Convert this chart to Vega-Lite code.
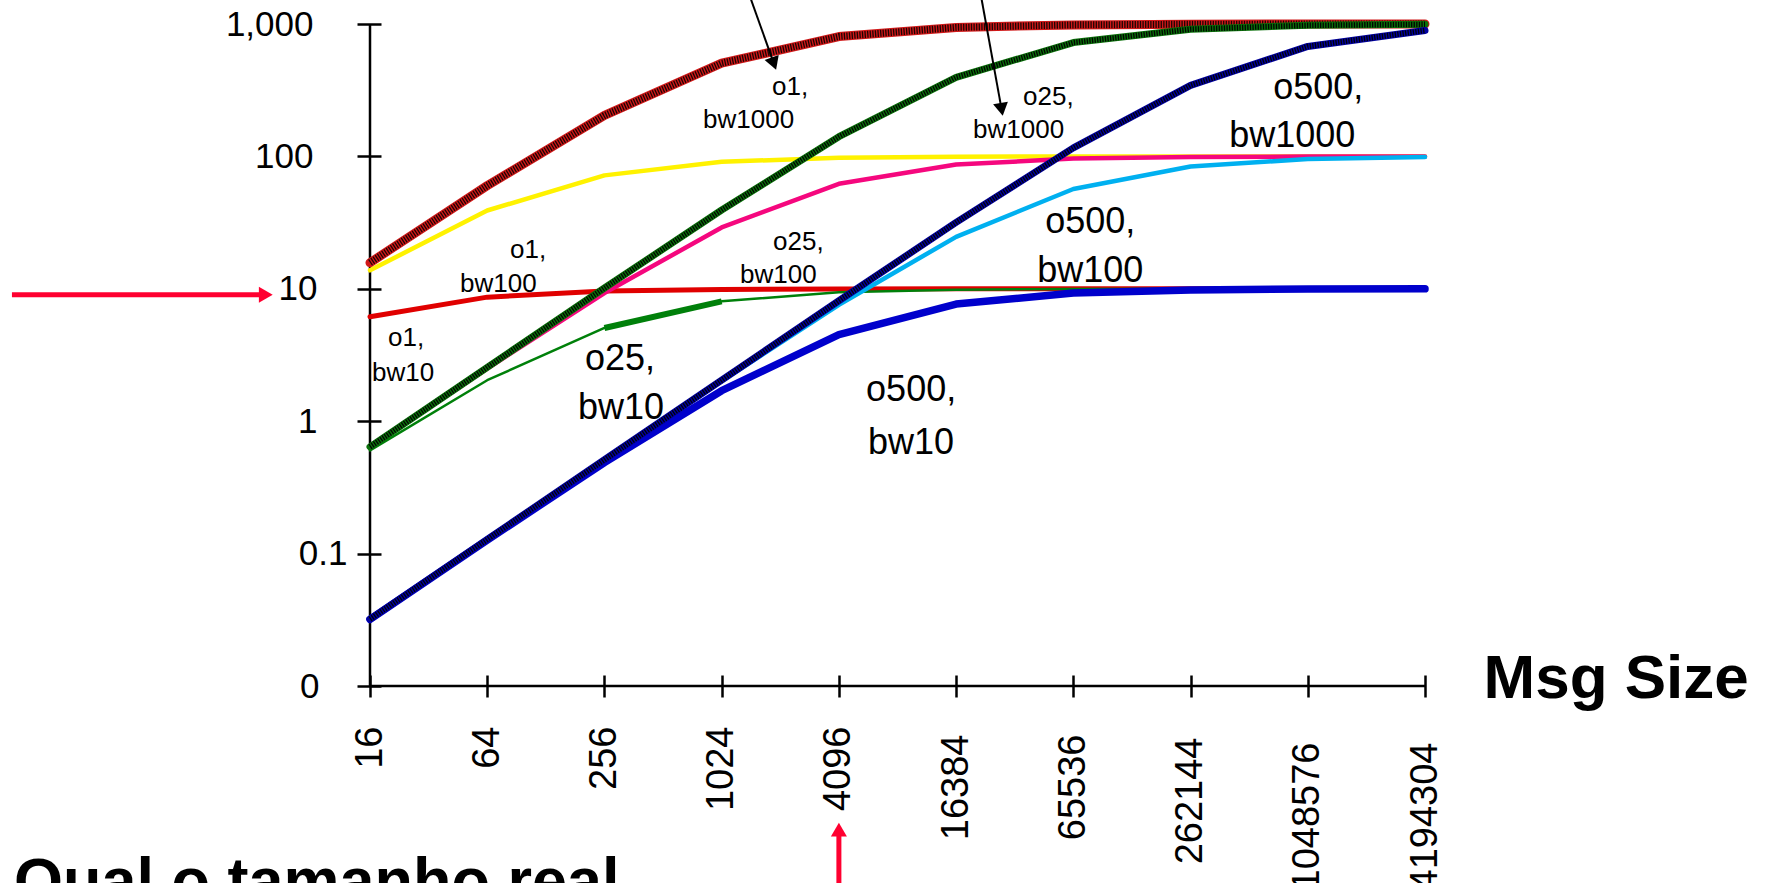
{
  "$schema": "https://vega.github.io/schema/vega-lite/v6.json",
  "width": 1055,
  "height": 662,
  "autosize": "none",
  "padding": {"left": 370, "top": 24, "right": 348, "bottom": 197},
  "background": "white",
  "config": {"view": {"stroke": null}, "font": "Liberation Sans"},
  "datasets": {
    "lines": [
      {"s": "o1,bw10", "x": 16, "y": 6.15}, {"s": "o1,bw10", "x": 64, "y": 8.65}, {"s": "o1,bw10", "x": 256, "y": 9.62}, {"s": "o1,bw10", "x": 1024, "y": 9.9}, {"s": "o1,bw10", "x": 4096, "y": 9.98}, {"s": "o1,bw10", "x": 16384, "y": 9.99}, {"s": "o1,bw10", "x": 65536, "y": 10.0}, {"s": "o1,bw10", "x": 262144, "y": 10.0}, {"s": "o1,bw10", "x": 1048576, "y": 10.0}, {"s": "o1,bw10", "x": 4194304, "y": 10.0},
      {"s": "o1,bw100", "x": 16, "y": 13.79}, {"s": "o1,bw100", "x": 64, "y": 39.02}, {"s": "o1,bw100", "x": 256, "y": 71.91}, {"s": "o1,bw100", "x": 1024, "y": 91.1}, {"s": "o1,bw100", "x": 4096, "y": 97.62}, {"s": "o1,bw100", "x": 16384, "y": 99.39}, {"s": "o1,bw100", "x": 65536, "y": 99.85}, {"s": "o1,bw100", "x": 262144, "y": 99.96}, {"s": "o1,bw100", "x": 1048576, "y": 99.99}, {"s": "o1,bw100", "x": 4194304, "y": 100.0},
      {"s": "o1,bw1000", "x": 16, "y": 15.75}, {"s": "o1,bw1000", "x": 64, "y": 60.15}, {"s": "o1,bw1000", "x": 256, "y": 203.8}, {"s": "o1,bw1000", "x": 1024, "y": 505.9}, {"s": "o1,bw1000", "x": 4096, "y": 803.8}, {"s": "o1,bw1000", "x": 16384, "y": 942.5}, {"s": "o1,bw1000", "x": 65536, "y": 984.7}, {"s": "o1,bw1000", "x": 262144, "y": 996.2}, {"s": "o1,bw1000", "x": 1048576, "y": 999.0}, {"s": "o1,bw1000", "x": 4194304, "y": 999.8},
      {"s": "o25,bw10", "x": 16, "y": 0.602}, {"s": "o25,bw10", "x": 64, "y": 2.04}, {"s": "o25,bw10", "x": 256, "y": 5.06}, {"s": "o25,bw10", "x": 1024, "y": 8.04}, {"s": "o25,bw10", "x": 4096, "y": 9.42}, {"s": "o25,bw10", "x": 16384, "y": 9.85}, {"s": "o25,bw10", "x": 65536, "y": 9.96}, {"s": "o25,bw10", "x": 262144, "y": 9.99}, {"s": "o25,bw10", "x": 1048576, "y": 10.0}, {"s": "o25,bw10", "x": 4194304, "y": 10.0},
      {"s": "o25,bw100", "x": 16, "y": 0.636}, {"s": "o25,bw100", "x": 64, "y": 2.5}, {"s": "o25,bw100", "x": 256, "y": 9.29}, {"s": "o25,bw100", "x": 1024, "y": 29.06}, {"s": "o25,bw100", "x": 4096, "y": 62.1}, {"s": "o25,bw100", "x": 16384, "y": 86.8}, {"s": "o25,bw100", "x": 65536, "y": 96.3}, {"s": "o25,bw100", "x": 262144, "y": 99.07}, {"s": "o25,bw100", "x": 1048576, "y": 99.77}, {"s": "o25,bw100", "x": 4194304, "y": 99.94},
      {"s": "o25,bw1000", "x": 16, "y": 0.64}, {"s": "o25,bw1000", "x": 64, "y": 2.553}, {"s": "o25,bw1000", "x": 256, "y": 10.14}, {"s": "o25,bw1000", "x": 1024, "y": 39.35}, {"s": "o25,bw1000", "x": 4096, "y": 140.8}, {"s": "o25,bw1000", "x": 16384, "y": 395.9}, {"s": "o25,bw1000", "x": 65536, "y": 723.9}, {"s": "o25,bw1000", "x": 262144, "y": 913.1}, {"s": "o25,bw1000", "x": 1048576, "y": 976.7}, {"s": "o25,bw1000", "x": 4194304, "y": 994.1},
      {"s": "o500,bw10", "x": 16, "y": 0.0319}, {"s": "o500,bw10", "x": 64, "y": 0.1264}, {"s": "o500,bw10", "x": 256, "y": 0.4871}, {"s": "o500,bw10", "x": 1024, "y": 1.7}, {"s": "o500,bw10", "x": 4096, "y": 4.503}, {"s": "o500,bw10", "x": 16384, "y": 7.663}, {"s": "o500,bw10", "x": 65536, "y": 9.291}, {"s": "o500,bw10", "x": 262144, "y": 9.813}, {"s": "o500,bw10", "x": 1048576, "y": 9.952}, {"s": "o500,bw10", "x": 4194304, "y": 9.988},
      {"s": "o500,bw100", "x": 16, "y": 0.03199}, {"s": "o500,bw100", "x": 64, "y": 0.1279}, {"s": "o500,bw100", "x": 256, "y": 0.5094}, {"s": "o500,bw100", "x": 1024, "y": 2.007}, {"s": "o500,bw100", "x": 4096, "y": 7.572}, {"s": "o500,bw100", "x": 16384, "y": 24.68}, {"s": "o500,bw100", "x": 65536, "y": 56.72}, {"s": "o500,bw100", "x": 262144, "y": 84.0}, {"s": "o500,bw100", "x": 1048576, "y": 95.45}, {"s": "o500,bw100", "x": 4194304, "y": 98.82},
      {"s": "o500,bw1000", "x": 16, "y": 0.032}, {"s": "o500,bw1000", "x": 64, "y": 0.128}, {"s": "o500,bw1000", "x": 256, "y": 0.5117}, {"s": "o500,bw1000", "x": 1024, "y": 2.044}, {"s": "o500,bw1000", "x": 4096, "y": 8.125}, {"s": "o500,bw1000", "x": 16384, "y": 31.73}, {"s": "o500,bw1000", "x": 65536, "y": 115.9}, {"s": "o500,bw1000", "x": 262144, "y": 344.0}, {"s": "o500,bw1000", "x": 1048576, "y": 677.1}, {"s": "o500,bw1000", "x": 4194304, "y": 893.5}
    ],
    "labelsSmall": [
      {"t": "o1,", "x": 1858.7, "y": 291.2},
      {"t": "bw1000", "x": 821.8, "y": 164.1},
      {"t": "o25,", "x": 36190, "y": 244.7},
      {"t": "bw1000", "x": 20034, "y": 137.9},
      {"t": "o1,", "x": 83.81, "y": 17.14},
      {"t": "bw100", "x": 46.39, "y": 9.493},
      {"t": "o1,", "x": 19.8, "y": 3.714},
      {"t": "bw10", "x": 16.38, "y": 2.021},
      {"t": "o25,", "x": 1880.9, "y": 19.7},
      {"t": "bw100", "x": 1273, "y": 11.1}
    ],
    "labelsLarge": [
      {"t": "o500,", "x": 696460, "y": 271.6},
      {"t": "bw1000", "x": 413850, "y": 117.9},
      {"t": "o500,", "x": 46950, "y": 26.47},
      {"t": "bw100", "x": 42709, "y": 11.29},
      {"t": "o500,", "x": 5651, "y": 1.428},
      {"t": "bw10", "x": 5785, "y": 0.5684},
      {"t": "o25,", "x": 203.5, "y": 2.447},
      {"t": "bw10", "x": 187.3, "y": 1.044}
    ]
  },
  "encoding": {
    "x": {
      "field": "x", "type": "quantitative",
      "scale": {"type": "log", "domain": [16, 4194304], "nice": false},
      "axis": {
        "values": [16, 64, 256, 1024, 4096, 16384, 65536, 262144, 1048576, 4194304],
        "format": "d", "labelAngle": -90, "labelFont": "Liberation Sans", "labelFontSize": 38, "labelColor": "black",
        "labelPadding": {"condition": [{"test": "datum.value >= 1048576", "value": 45}, {"test": "datum.value >= 262144", "value": 40}, {"test": "datum.value >= 16384", "value": 37}], "value": 29},
        "labelOverlap": false, "labelFlush": false, "labelBound": false,
        "tickSize": 22, "tickWidth": 2.5, "tickColor": "black", "domain": false, "grid": false, "offset": -11,
        "title": "Msg Size", "titleFont": "Liberation Sans", "titleFontSize": 62, "titleFontWeight": "bold", "titleColor": "black",
        "titleAlign": "left", "titleBaseline": "alphabetic", "titleX": 1113, "titleY": 22
      }
    },
    "y": {
      "field": "y", "type": "quantitative",
      "scale": {"type": "log", "domain": [0.01, 1000], "nice": false},
      "axis": {
        "values": [0.01, 0.1, 1, 10, 100, 1000],
        "labelExpr": "datum.value < 0.05 ? '0' : datum.value < 0.5 ? '0.1' : datum.value >= 1000 ? '1,000' : format(datum.value, 'd')",
        "labelFont": "Liberation Sans", "labelFontSize": 35, "labelColor": "black",
        "labelPadding": {"condition": [{"test": "datum.value > 0.05 && datum.value < 0.5", "value": 10}, {"test": "datum.value < 0.05", "value": 38}, {"test": "datum.value > 0.5 && datum.value < 20", "value": 40}], "value": 44},
        "labelOverlap": false, "labelFlush": false, "labelBound": false,
        "tickSize": 24, "tickWidth": 2.5, "tickColor": "black", "domain": false, "grid": false, "offset": -11, "title": null
      }
    }
  },
  "layer": [
    {"data": {"values": [{"x": 16, "y": 0.01, "y2": 1000}]}, "mark": {"type": "rule", "color": "black", "strokeWidth": 2.5}, "encoding": {"y2": {"field": "y2"}}},
    {"data": {"values": [{"x": 16, "x2": 4194304, "y": 0.01}]}, "mark": {"type": "rule", "color": "black", "strokeWidth": 2.5}, "encoding": {"x2": {"field": "x2"}}},
    {"data": {"name": "lines"}, "transform": [{"filter": "datum.s == 'o1,bw10'"}], "mark": {"type": "line", "color": "#e00000", "strokeWidth": 5, "strokeCap": "round", "strokeJoin": "round"}},
    {"data": {"name": "lines"}, "transform": [{"filter": "datum.s == 'o1,bw100'"}], "mark": {"type": "line", "color": "#fff200", "strokeWidth": 4.5, "strokeCap": "round", "strokeJoin": "round"}},
    {"data": {"name": "lines"}, "transform": [{"filter": "datum.s == 'o1,bw1000'"}], "mark": {"type": "line", "color": "#d01818", "strokeWidth": 9, "strokeCap": "round", "strokeJoin": "round"}},
    {"data": {"name": "lines"}, "transform": [{"filter": "datum.s == 'o1,bw1000'"}], "mark": {"type": "line", "color": "black", "strokeWidth": 7, "strokeDash": [1.3, 1.3], "opacity": 0.85, "strokeCap": "butt"}},
    {"data": {"name": "lines"}, "transform": [{"filter": "datum.s == 'o25,bw10'"}], "mark": {"type": "line", "color": "#00800a", "strokeWidth": 2.5, "strokeCap": "round", "strokeJoin": "round"}},
    {"data": {"name": "lines"}, "transform": [{"filter": "datum.s == 'o25,bw10' && datum.x >= 256 && datum.x <= 1024"}], "mark": {"type": "line", "color": "#00800a", "strokeWidth": 6, "strokeCap": "butt"}},
    {"data": {"name": "lines"}, "transform": [{"filter": "datum.s == 'o25,bw100'"}], "mark": {"type": "line", "color": "#f5077e", "strokeWidth": 4.5, "strokeCap": "round", "strokeJoin": "round"}},
    {"data": {"name": "lines"}, "transform": [{"filter": "datum.s == 'o25,bw1000'"}], "mark": {"type": "line", "color": "#0a700a", "strokeWidth": 7, "strokeCap": "round", "strokeJoin": "round"}},
    {"data": {"name": "lines"}, "transform": [{"filter": "datum.s == 'o25,bw1000'"}], "mark": {"type": "line", "color": "black", "strokeWidth": 5.5, "strokeDash": [1.3, 1.3], "opacity": 0.95, "strokeCap": "butt"}},
    {"data": {"name": "lines"}, "transform": [{"filter": "datum.s == 'o500,bw10'"}], "mark": {"type": "line", "color": "#0000cc", "strokeWidth": 7.5, "strokeCap": "round", "strokeJoin": "round"}},
    {"data": {"name": "lines"}, "transform": [{"filter": "datum.s == 'o500,bw100'"}], "mark": {"type": "line", "color": "#00b0f0", "strokeWidth": 4.5, "strokeCap": "round", "strokeJoin": "round"}},
    {"data": {"name": "lines"}, "transform": [{"filter": "datum.s == 'o500,bw1000'"}], "mark": {"type": "line", "color": "#0000a0", "strokeWidth": 7, "strokeCap": "round", "strokeJoin": "round"}},
    {"data": {"name": "lines"}, "transform": [{"filter": "datum.s == 'o500,bw1000'"}], "mark": {"type": "line", "color": "black", "strokeWidth": 5.5, "strokeDash": [1.3, 1.3], "opacity": 0.95, "strokeCap": "butt"}},
    {"data": {"name": "labelsSmall"}, "mark": {"type": "text", "align": "left", "baseline": "alphabetic", "fontSize": 26, "font": "Liberation Sans", "color": "black"}, "encoding": {"text": {"field": "t"}}},
    {"data": {"name": "labelsLarge"}, "mark": {"type": "text", "align": "left", "baseline": "alphabetic", "fontSize": 36, "font": "Liberation Sans", "color": "black"}, "encoding": {"text": {"field": "t"}}},
    {"data": {"values": [{"x": 1334.6, "y": 2148}, {"x": 1898.7, "y": 502.5}]}, "mark": {"type": "line", "color": "black", "strokeWidth": 2}},
    {"data": {"values": [{"x": 1898.7, "y": 502.5}]}, "mark": {"type": "point", "shape": "triangle-down", "angle": -20, "size": 225, "filled": true, "color": "black", "opacity": 1, "strokeWidth": 0}},
    {"data": {"values": [{"x": 21253, "y": 2148}, {"x": 28063, "y": 226.3}]}, "mark": {"type": "line", "color": "black", "strokeWidth": 2}},
    {"data": {"values": [{"x": 28063, "y": 226.3}]}, "mark": {"type": "point", "shape": "triangle-down", "angle": -10, "size": 225, "filled": true, "color": "black", "opacity": 1, "strokeWidth": 0}},
    {"data": {"values": [{"x": 0.2318, "y": 9.01}, {"x": 4.46, "y": 9.01}]}, "mark": {"type": "line", "color": "#ff0030", "strokeWidth": 5, "strokeCap": "butt"}},
    {"data": {"values": [{"x": 4.665, "y": 9.01}]}, "mark": {"type": "point", "shape": "triangle-right", "size": 256, "filled": true, "color": "#ff0030", "opacity": 1, "strokeWidth": 0}},
    {"data": {"values": [{"x": 4096, "y": 0.000798}, {"x": 4096, "y": 0.0002447}]}, "mark": {"type": "line", "color": "#ff0030", "strokeWidth": 5, "strokeCap": "butt"}},
    {"data": {"values": [{"x": 4096, "y": 0.000823}]}, "mark": {"type": "point", "shape": "triangle-up", "size": 256, "filled": true, "color": "#ff0030", "opacity": 1, "strokeWidth": 0}},
    {"data": {"values": [{"t": "Qual o tamanho real", "x": 0.2374, "y": 0.000232}]}, "mark": {"type": "text", "align": "left", "baseline": "alphabetic", "fontSize": 63, "fontWeight": "bold", "font": "Liberation Sans", "color": "black"}, "encoding": {"text": {"field": "t"}}}
  ]
}
